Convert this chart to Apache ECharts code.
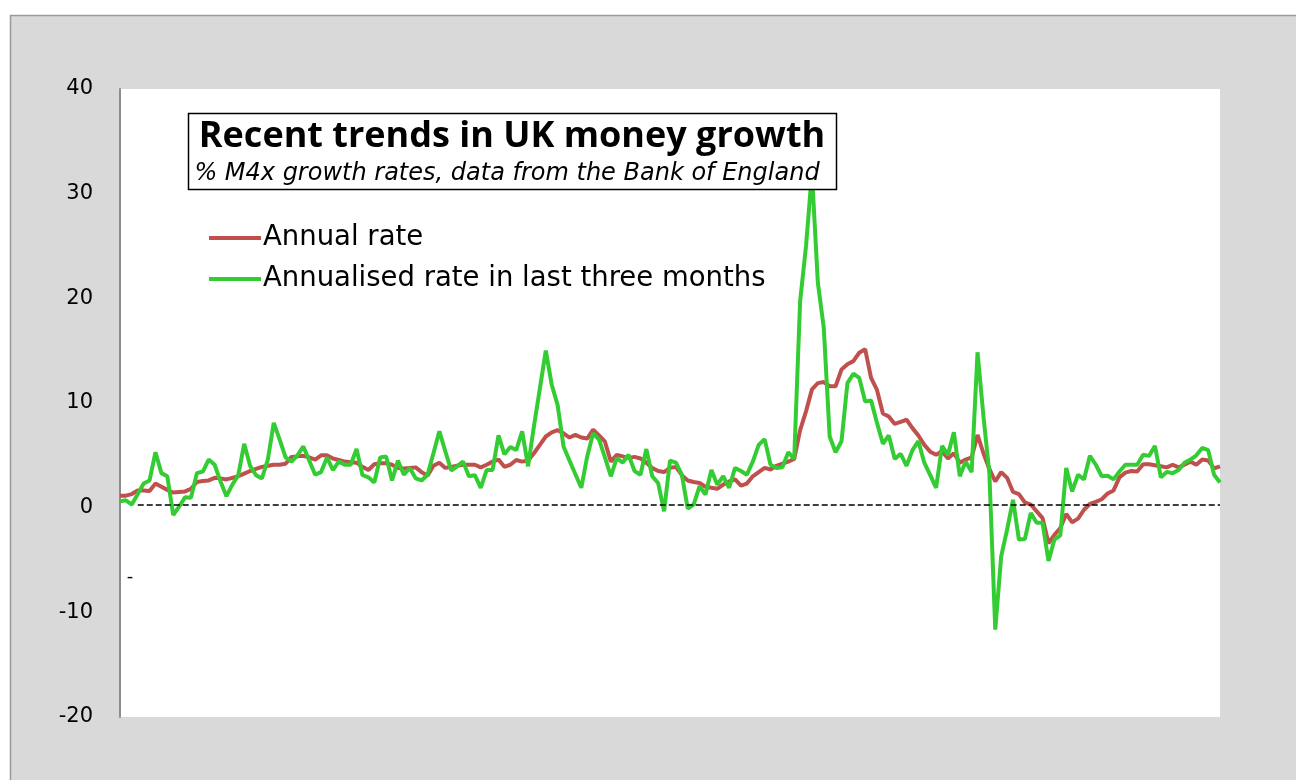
<!DOCTYPE html>
<html>
<head>
<meta charset="utf-8">
<script src="https://cdn.jsdelivr.net/npm/echarts@6/dist/echarts.min.js"></script>
<style>
html,body{margin:0;padding:0;background:#fff;}
#chart{width:1296px;height:780px;}
</style>
</head>
<body>
<div id="chart"></div>
<script>
// Monthly observations (x-axis labels are not shown in the reference)
const startYear = 2010, startMonth = 8;
const annualRate = [
1.15,1.15,1.3,1.65,1.65,1.6,2.3,2.0,1.7,1.45,
1.5,1.55,1.8,2.45,2.55,2.6,2.85,2.8,2.7,2.85,
3.0,3.25,3.5,3.7,3.9,4.0,4.1,4.1,4.2,4.85,
4.9,4.95,4.8,4.6,5.0,5.0,4.7,4.55,4.4,4.35,
4.3,3.9,3.6,4.15,4.25,4.25,4.1,3.8,3.75,3.8,
3.85,3.4,3.05,4.0,4.3,3.8,3.9,4.0,4.1,4.1,
4.1,3.85,4.1,4.4,4.6,3.9,4.1,4.55,4.4,4.5,
5.2,6.0,6.8,7.2,7.4,7.1,6.7,6.95,6.7,6.6,
7.45,6.9,6.3,4.4,5.05,4.9,4.75,4.85,4.7,4.3,
3.8,3.5,3.4,3.8,3.9,3.1,2.6,2.45,2.35,2.0,
1.9,1.8,2.2,2.5,2.7,2.1,2.3,3.0,3.4,3.8,
3.65,4.0,4.2,4.4,4.65,7.4,9.2,11.3,11.9,12.0,
11.6,11.6,13.2,13.7,14.0,14.8,15.15,12.4,11.25,9.0,
8.7,8.0,8.2,8.4,7.6,6.9,6.0,5.35,5.05,5.4,
4.7,5.2,4.3,4.6,4.8,6.95,5.2,3.7,2.5,3.4,
2.85,1.5,1.3,0.5,0.3,-0.35,-1.0,-3.4,-2.6,-1.95,
-0.6,-1.4,-1.05,-0.2,0.35,0.55,0.8,1.35,1.65,2.9,
3.35,3.5,3.45,4.15,4.15,4.05,3.95,3.85,4.1,3.85,
4.1,4.4,4.1,4.6,4.5,3.75,3.95
];
const threeMonthRate = [
0.6,0.7,0.3,1.3,2.3,2.6,5.3,3.3,3.0,-0.7,
0.1,1.0,0.95,3.3,3.45,4.6,4.1,2.5,1.1,2.2,
3.1,6.1,4.0,3.1,2.8,4.6,8.1,6.5,4.8,4.4,
5.0,5.85,4.5,3.15,3.4,4.8,3.6,4.4,4.1,4.1,
5.6,3.1,2.9,2.4,4.8,4.9,2.6,4.5,3.15,3.8,
2.8,2.6,3.15,5.2,7.3,5.4,3.55,3.95,4.4,3.0,
3.1,1.9,3.6,3.6,6.9,5.1,5.8,5.5,7.3,3.95,
7.8,11.4,15.0,11.75,9.8,5.85,4.5,3.2,1.9,4.9,
7.1,6.5,4.8,3.0,4.75,4.3,5.05,3.5,3.15,5.6,
3.0,2.35,-0.35,4.5,4.3,3.15,-0.1,0.3,2.05,1.25,
3.6,2.2,3.0,1.9,3.8,3.5,3.15,4.4,6.0,6.55,
4.1,3.8,3.85,5.3,4.65,19.7,25.0,32.0,21.5,17.2,
6.8,5.3,6.35,11.9,12.8,12.4,10.15,10.25,8.1,6.1,
6.9,4.65,5.15,4.0,5.5,6.35,4.3,3.1,1.9,5.9,
5.05,7.2,3.0,4.4,3.4,14.85,8.75,3.3,-11.65,-4.65,
-2.1,0.75,-3.05,-3.0,-0.5,-1.45,-1.45,-5.1,-3.05,-2.65,
3.8,1.55,3.15,2.7,4.95,4.1,3.0,3.05,2.7,3.45,
4.1,4.1,4.1,5.05,4.95,5.9,2.9,3.4,3.3,3.6,
4.3,4.6,5.0,5.7,5.5,3.15,2.4
];
const categories = annualRate.map((_, i) => {
  const m = startMonth - 1 + i;
  return (startYear + Math.floor(m / 12)) + '-' + String(m % 12 + 1).padStart(2, '0');
});
const yTicks = { min: -20, max: 40, interval: 10 };
const refLevel = 0.3;
const seriesNames = ['Annual rate', 'Annualised rate in last three months'];
const titleText = 'Recent trends in UK money growth';
const subtitleText = '% M4x growth rates, data from the Bank of England';

const chart = echarts.init(document.getElementById('chart'), null, { renderer: 'canvas' });
chart.setOption({
  backgroundColor: '#ffffff',
  animation: false,
  grid: {
    left: 120, right: 76, top: 89, bottom: 63,
    show: true, backgroundColor: '#ffffff', borderWidth: 0
  },
  legend: {
    orient: 'vertical',
    left: 204, top: 219,
    itemWidth: 52, itemHeight: 4, itemGap: 13,
    icon: 'rect',
    textStyle: { fontFamily: 'DejaVu Sans', fontSize: 27.5, color: '#000', padding: [0, 0, 0, -3] },
    data: seriesNames
  },
  xAxis: {
    type: 'category',
    data: categories,
    boundaryGap: false,
    axisLine: { show: false },
    axisTick: { show: false },
    axisLabel: { show: false },
    splitLine: { show: false }
  },
  yAxis: {
    type: 'value',
    min: yTicks.min, max: yTicks.max, interval: yTicks.interval,
    axisLine: { show: true, lineStyle: { color: '#8c8c8c', width: 2 } },
    axisTick: { show: false },
    splitLine: { show: false },
    axisLabel: { color: '#000', fontFamily: 'DejaVu Sans', fontSize: 21, margin: 27 }
  },
  series: [
    {
      name: seriesNames[0],
      type: 'line',
      data: annualRate,
      symbol: 'none',
      lineStyle: { color: '#c0504d', width: 4 },
      itemStyle: { color: '#c0504d' },
      z: 2,
      markLine: {
        silent: true,
        symbol: ['none', 'none'],
        label: { show: false },
        lineStyle: { color: '#000', type: [6, 3], width: 1.5 },
        data: [[{ coord: [categories[3], refLevel] }, { coord: [categories[categories.length - 1], refLevel] }]]
      }
    },
    {
      name: seriesNames[1],
      type: 'line',
      data: threeMonthRate,
      symbol: 'none',
      lineStyle: { color: '#33cc33', width: 4 },
      itemStyle: { color: '#33cc33' },
      z: 3
    }
  ],
  graphic: [
    {
      type: 'rect', z: -100, silent: true,
      shape: { x: 10.5, y: 15.5, width: 1300, height: 800 },
      style: { fill: '#d9d9d9', stroke: '#9a9a9a', lineWidth: 1.5 }
    },
    {
      type: 'rect', z: 100,
      shape: { x: 188.5, y: 113.5, width: 648, height: 76 },
      style: { fill: '#ffffff', stroke: '#000000', lineWidth: 1.5 }
    },
    {
      type: 'text', z: 101, x: 512, y: 137,
      style: { text: titleText, fontFamily: 'Open Sans', fontWeight: 'bold', fontSize: 36, fill: '#000', align: 'center', verticalAlign: 'middle' }
    },
    {
      type: 'text', z: 101, x: 507, y: 174,
      style: { text: subtitleText, fontFamily: 'DejaVu Sans', fontStyle: 'italic', fontSize: 24, fill: '#000', align: 'center', verticalAlign: 'middle' }
    },
    {
      type: 'text', z: 101, x: 130, y: 577,
      style: { text: '-', fontFamily: 'DejaVu Sans', fontSize: 18, fill: '#000', align: 'center', verticalAlign: 'middle' }
    }
  ]
});
</script>
</body>
</html>
